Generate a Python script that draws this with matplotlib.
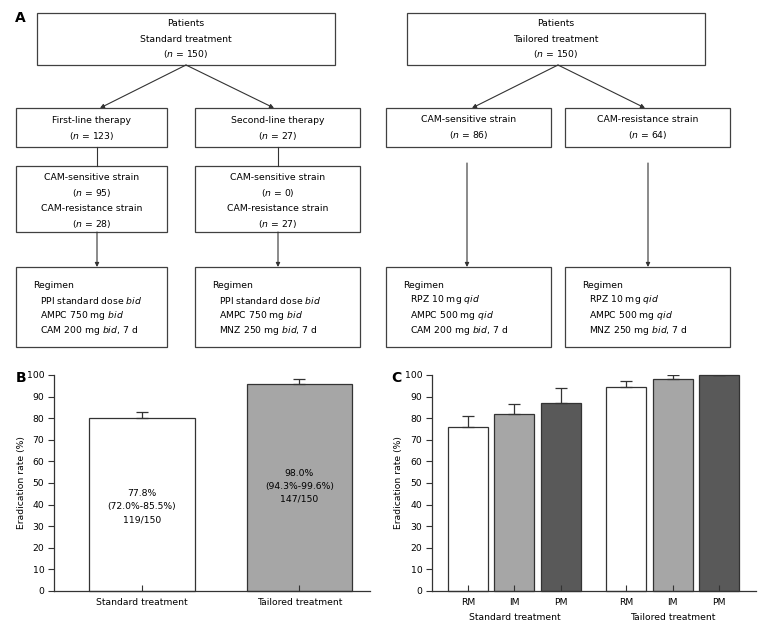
import matplotlib.pyplot as plt
from matplotlib.patches import Rectangle

plt.rcParams['font.family'] = ['DejaVu Sans']
plt.rcParams['mathtext.fontset'] = 'dejavusans'

FS = 6.7
EDGE = '#404040'

# ---- panel A: flowchart text ----
top_left_lines = ['Patients', 'Standard treatment', '($n$ = 150)']
top_right_lines = ['Patients', 'Tailored treatment', '($n$ = 150)']
first_line_lines = ['First-line therapy', '($n$ = 123)']
second_line_lines = ['Second-line therapy', '($n$ = 27)']
strain_first_lines = ['CAM-sensitive strain', '($n$ = 95)', 'CAM-resistance strain', '($n$ = 28)']
strain_second_lines = ['CAM-sensitive strain', '($n$ = 0)', 'CAM-resistance strain', '($n$ = 27)']
sens_lines = ['CAM-sensitive strain', '($n$ = 86)']
resist_lines = ['CAM-resistance strain', '($n$ = 64)']
regimen_std1 = ['PPI standard dose $bid$', 'AMPC 750 mg $bid$', 'CAM 200 mg $bid$, 7 d']
regimen_std2 = ['PPI standard dose $bid$', 'AMPC 750 mg $bid$', 'MNZ 250 mg $bid$, 7 d']
regimen_tai1 = ['RPZ 10 mg $qid$', 'AMPC 500 mg $qid$', 'CAM 200 mg $bid$, 7 d']
regimen_tai2 = ['RPZ 10 mg $qid$', 'AMPC 500 mg $qid$', 'MNZ 250 mg $bid$, 7 d']

# ---- panel B data ----
b_groups = ['Standard treatment', 'Tailored treatment']
b_rate = [80, 96]
b_err = [3, 2]
b_colors = ['white', '#a6a6a6']
b_notes = ['77.8%\n(72.0%-85.5%)\n119/150', '98.0%\n(94.3%-99.6%)\n147/150']
b_note_y = [39, 48.5]

# ---- panel C data ----
c_labels = ['RM', 'IM', 'PM', 'RM', 'IM', 'PM']
c_pos = [0, 1, 2, 3.4, 4.4, 5.4]
c_rate = [76, 82, 87, 94.3, 98.3, 100]
c_err = [4.8, 4.6, 7.2, 3.0, 1.6, 0]
c_colors = ['white', '#a6a6a6', '#595959'] * 2
c_groups = ['Standard treatment', 'Tailored treatment']

fig = plt.figure(figsize=(7.7, 6.33), dpi=100)

# flowchart drawn in pixel coordinates
ax0 = fig.add_axes([0, 0, 1, 1])
ax0.set_xlim(0, 770)
ax0.set_ylim(633, 0)
ax0.axis('off')


def box(x0, y0, x1, y1, lines, first_y, step=15.5):
    ax0.add_patch(Rectangle((x0, y0), x1 - x0, y1 - y0, fill=False, ec=EDGE, lw=0.9))
    for i, t in enumerate(lines):
        ax0.text((x0 + x1) / 2, first_y + i * step, t, ha='center', va='center', fontsize=FS)


def arrow(x0, y0, x1, y1):
    ax0.annotate('', xy=(x1, y1), xytext=(x0, y0),
                 arrowprops=dict(arrowstyle='-|>', color='#333333', lw=0.8,
                                 mutation_scale=6, shrinkA=0, shrinkB=0))


def regimen(x0, x1, lines):
    ax0.add_patch(Rectangle((x0, 267), x1 - x0, 80, fill=False, ec=EDGE, lw=0.9))
    ax0.text(x0 + 17, 285, 'Regimen', ha='left', va='center', fontsize=FS)
    for i, t in enumerate(lines):
        ax0.text(x0 + 24, 300 + i * 15.3, t, ha='left', va='center', fontsize=FS)


# left tree
box(37, 13, 335, 65, top_left_lines, 23.5)
arrow(186, 65, 100, 108)
arrow(186, 65, 274, 108)
box(16, 108, 167, 147, first_line_lines, 120.5, step=16)
box(195, 108, 360, 147, second_line_lines, 120.5, step=16)
for xl in (97, 278):
    ax0.plot([xl, xl], [147, 166], color='#333333', lw=0.8)
    arrow(xl, 232, xl, 267)
box(16, 166, 167, 232, strain_first_lines, 177.5)
box(195, 166, 360, 232, strain_second_lines, 177.5)
regimen(16, 167, regimen_std1)
regimen(195, 360, regimen_std2)

# right tree
box(407, 13, 705, 65, top_right_lines, 23.5)
arrow(558, 65, 472, 108)
arrow(558, 65, 645, 108)
box(386, 108, 551, 147, sens_lines, 119, step=16)
box(565, 108, 730, 147, resist_lines, 119, step=16)
arrow(467, 163, 467, 267)
arrow(648, 163, 648, 267)
regimen(386, 551, regimen_tai1)
regimen(565, 730, regimen_tai2)

ax0.text(20, 18, 'A', fontsize=10, fontweight='bold', ha='center', va='center')
ax0.text(21, 378, 'B', fontsize=10, fontweight='bold', ha='center', va='center')
ax0.text(396, 378, 'C', fontsize=10, fontweight='bold', ha='center', va='center')


def style(ax):
    ax.set_ylim(0, 100)
    ax.set_yticks(range(0, 101, 10))
    for s in ('top', 'right'):
        ax.spines[s].set_visible(False)
    for s in ('left', 'bottom'):
        ax.spines[s].set_color('#333333')
        ax.spines[s].set_linewidth(0.9)
    ax.tick_params(axis='y', direction='out', length=4, width=0.8, color='#333333',
                   labelsize=FS, pad=3)
    ax.tick_params(axis='x', direction='in', length=4, width=0.8, color='#333333',
                   labelsize=FS, pad=5)
    ax.set_ylabel('Eradication rate (%)', fontsize=FS)
    ax.patch.set_alpha(0)


# panel B
axb = fig.add_axes([54 / 770, 42 / 633, 316 / 770, 216 / 633])
xb = range(len(b_groups))
axb.bar(xb, b_rate, width=0.67, color=b_colors, edgecolor='#333333', linewidth=0.9,
        yerr=[[0] * len(b_err), b_err], capsize=4.5,
        error_kw=dict(ecolor='#333333', elinewidth=0.9, capthick=0.9), clip_on=False)
for x, note, ny in zip(xb, b_notes, b_note_y):
    axb.text(x, ny, note, ha='center', va='center', fontsize=FS, linespacing=1.6)
axb.set_xlim(-0.56, 1.45)
axb.set_xticks(list(xb))
axb.set_xticklabels(b_groups)
style(axb)
axb.yaxis.set_label_coords(-0.09, 0.5)

# panel C
axc = fig.add_axes([432 / 770, 42 / 633, 324 / 770, 216 / 633])
axc.bar(c_pos, c_rate, width=0.86, color=c_colors, edgecolor='#333333', linewidth=0.9,
        yerr=[[0] * len(c_err), c_err], capsize=4.2,
        error_kw=dict(ecolor='#333333', elinewidth=0.9, capthick=0.9), clip_on=False)
axc.set_xlim(-0.77, 6.19)
axc.set_xticks(c_pos)
axc.set_xticklabels(c_labels)
style(axc)
axc.yaxis.set_label_coords(-0.09, 0.5)
for g, name in enumerate(c_groups):
    cx = sum(c_pos[g * 3:g * 3 + 3]) / 3
    axc.text(cx, -0.125, name, ha='center', va='center', fontsize=FS,
             transform=axc.get_xaxis_transform())

fig.savefig('out.png', dpi=100)
